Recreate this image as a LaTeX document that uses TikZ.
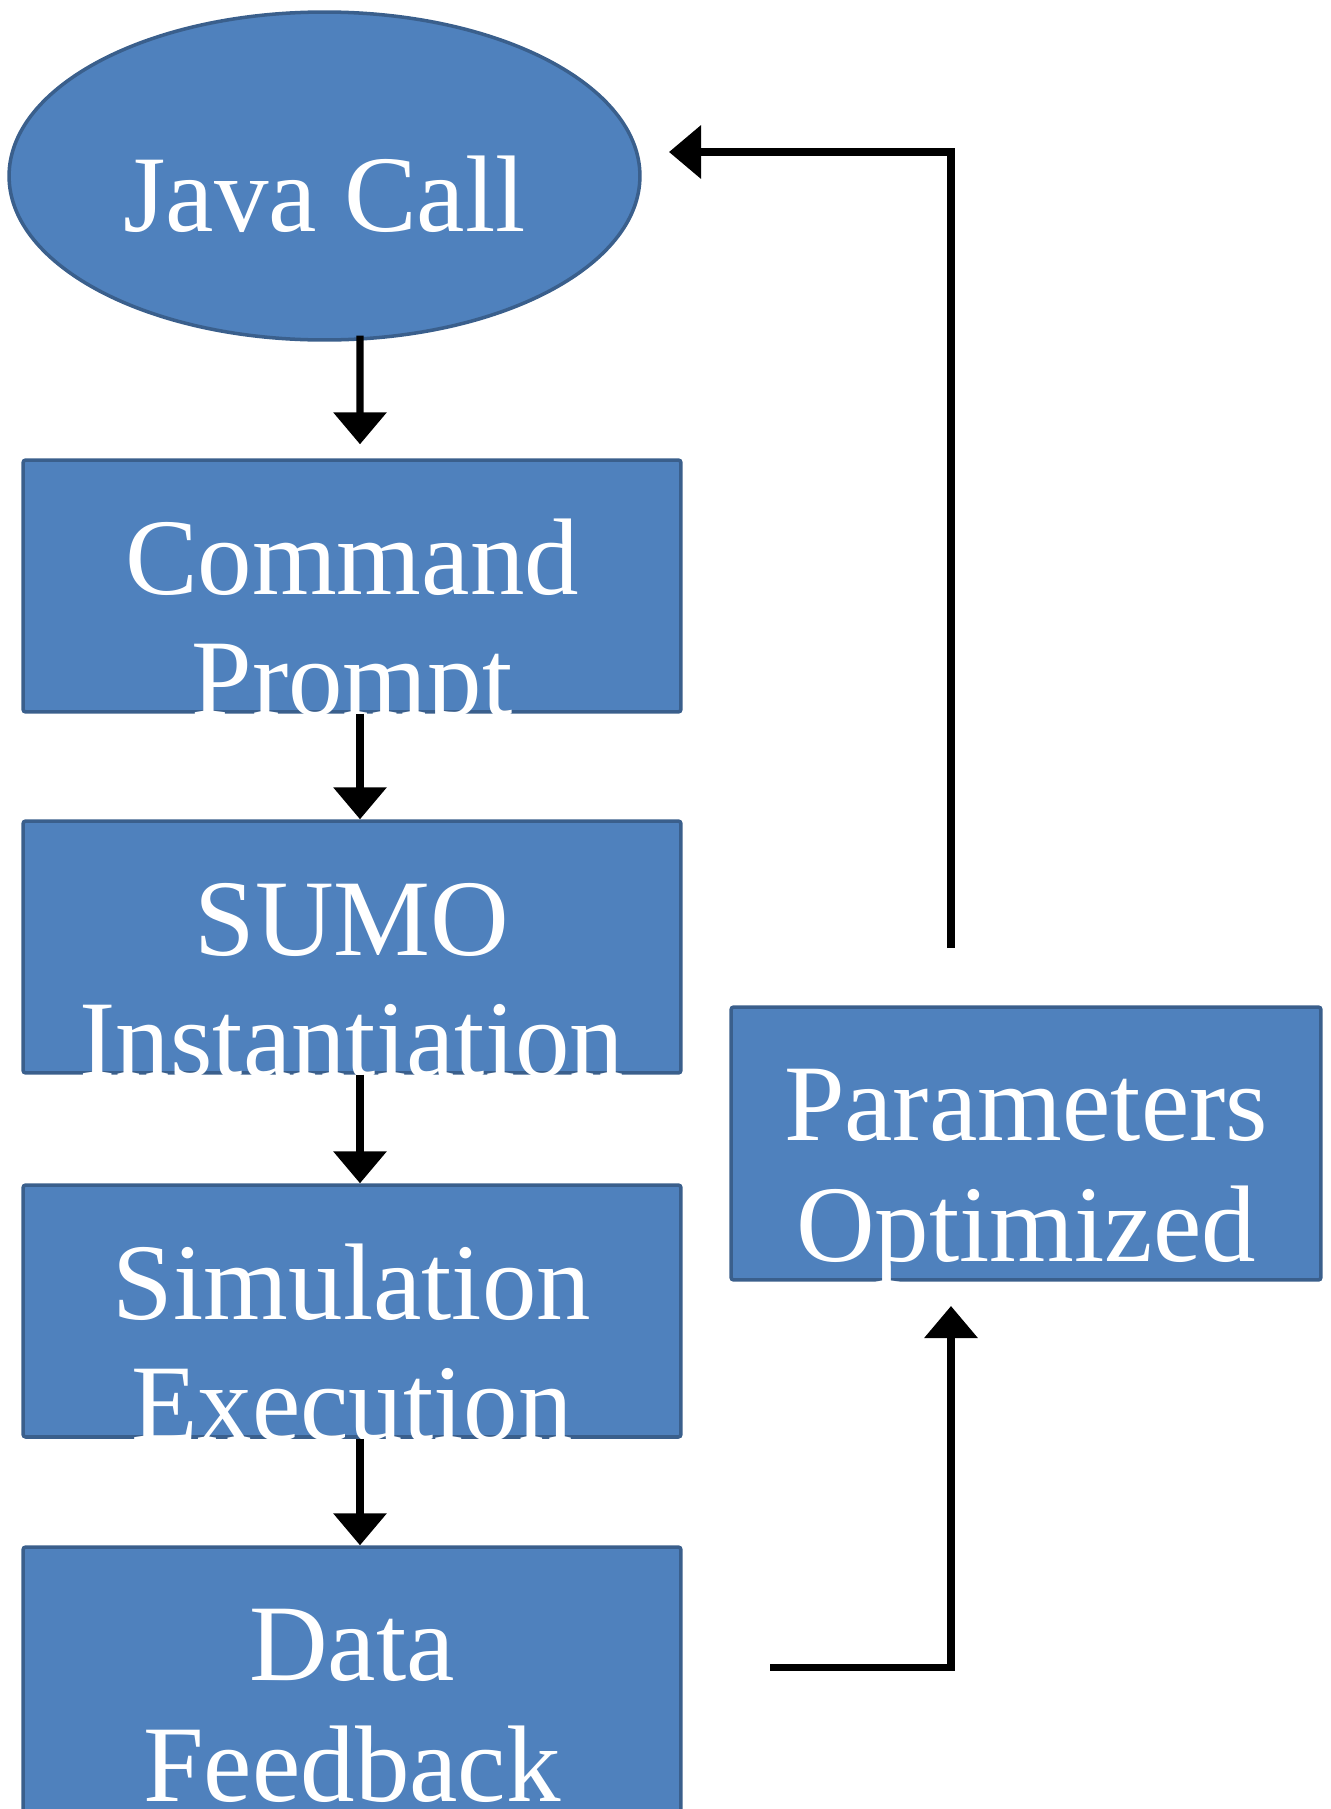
\documentclass[tikz,border=0pt]{standalone}
\usepackage{fontspec}
\setmainfont{Liberation Serif}
\usetikzlibrary{shapes.geometric,arrows.meta}
\definecolor{boxfill}{HTML}{4F81BD}
\definecolor{boxline}{HTML}{3A5F8C}
\tikzset{
  flowbox/.style={draw=boxline, fill=boxfill, line width=2pt, rounded corners=1.5pt,
    minimum width=13.16cm, minimum height=5.04cm, inner sep=0pt},
  flowoval/.style={ellipse, draw=boxline, fill=boxfill, line width=2pt,
    minimum width=12.62cm, minimum height=6.56cm, inner sep=0pt},
  flowtext/.style={text=white, align=center, font=\fontsize{62}{69}\selectfont},
  flowarrow/.style={line width=4pt, -{Triangle[length=0.64cm,width=1.04cm]}}
}
\begin{document}
\begin{tikzpicture}[x=0.02cm,y=-0.02cm]
\useasboundingbox (0,0) rectangle (1331,1809);
\clip (0,0) rectangle (1331,1809);
% shapes
\node[flowoval, label={[flowtext,yshift=-0.63cm]center:\strut Java Call}] (java) at (324.5,176) {};
\node[flowbox, label={[flowtext,yshift=-0.89cm]center:\strut Command\\\strut Prompt}] (cmd) at (352,586) {};
\node[flowbox, label={[flowtext,yshift=-0.89cm]center:\strut SUMO\\\strut Instantiation}] (sumo) at (352,947) {};
\node[flowbox, label={[flowtext,yshift=-0.89cm]center:\strut Simulation\\\strut Execution}] (sim) at (352,1311) {};
\node[flowbox, minimum height=6cm, label={[flowtext,yshift=-0.39cm]center:\strut Data\\\strut Feedback}] (data) at (352,1697) {};
\node[flowbox, minimum width=11.8cm, minimum height=5.46cm, label={[flowtext,yshift=-0.66cm]center:\strut Parameters\\\strut Optimized}] (param) at (1026,1143.5) {};
% arrows down
\draw[flowarrow] ([xshift=0.71cm,yshift=0.12cm]java.south) -- ([xshift=0.16cm,yshift=0.28cm]cmd.north);
\draw[flowarrow] ([xshift=0.16cm]cmd.south) -- ([xshift=0.16cm]sumo.north);
\draw[flowarrow] ([xshift=0.16cm]sumo.south) -- ([xshift=0.16cm]sim.north);
\draw[flowarrow] ([xshift=0.16cm]sim.south) -- ([xshift=0.16cm]data.north);
% loop back
\coordinate (fbout) at (770,1667);
\coordinate (optin) at (951,1306);
\coordinate (optout) at (951,948);
\coordinate (javain) at (669,152);
\draw[flowarrow] (fbout) -| (optin);
\draw[flowarrow] (optout) |- (javain);
\end{tikzpicture}
\end{document}
